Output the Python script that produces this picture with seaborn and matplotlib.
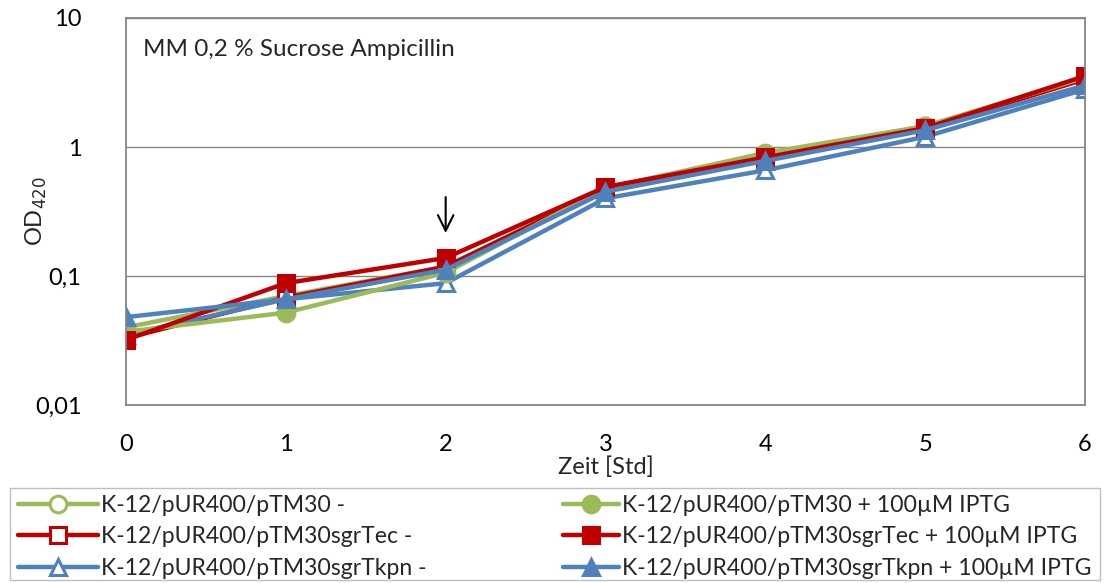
import matplotlib
matplotlib.use("Agg")
import matplotlib.pyplot as plt
import seaborn as sns
import pandas as pd
from matplotlib.ticker import FixedLocator, NullLocator
from matplotlib.patches import Rectangle

sns.set_style("white")
plt.rcParams['font.family'] = ['Lato', 'DejaVu Sans']

hours = [0, 1, 2, 3, 4, 5, 6]
labels = [
    "K-12/pUR400/pTM30 -",
    "K-12/pUR400/pTM30sgrTec -",
    "K-12/pUR400/pTM30sgrTkpn -",
    "K-12/pUR400/pTM30 + 100µM IPTG",
    "K-12/pUR400/pTM30sgrTec + 100µM IPTG",
    "K-12/pUR400/pTM30sgrTkpn + 100µM IPTG",
]
od_pTM30 = [0.040, 0.070, 0.118, 0.48, 0.86, 1.45, 3.40]
od_sgrTec = [0.033, 0.068, 0.118, 0.47, 0.80, 1.40, 3.35]
od_sgrTkpn = [0.035, 0.066, 0.088, 0.40, 0.66, 1.20, 2.80]
od_pTM30_iptg = [0.037, 0.052, 0.106, 0.48, 0.90, 1.45, 3.45]
od_sgrTec_iptg = [0.032, 0.088, 0.138, 0.49, 0.83, 1.40, 3.55]
od_sgrTkpn_iptg = [0.048, 0.066, 0.112, 0.45, 0.78, 1.35, 3.00]

series = [od_pTM30, od_sgrTec, od_sgrTkpn, od_pTM30_iptg, od_sgrTec_iptg, od_sgrTkpn_iptg]
colors = ["#9BBB59", "#C00000", "#4F81BD", "#9BBB59", "#C00000", "#4F81BD"]
markers = ["o", "s", "^", "o", "s", "^"]
filled = [False, False, False, True, True, True]

FS = 17
LFS = 16.6

fig = plt.figure(figsize=(11.04, 5.83), dpi=100)
ax = fig.add_axes([126/1104, 1-405/583, (1085-126)/1104, (405-18)/583])

handles = []
for lab, vals, c, m, f in zip(labels, series, colors, markers, filled):
    df = pd.DataFrame({"Zeit": hours, "OD": vals})
    sns.lineplot(data=df, x="Zeit", y="OD", ax=ax, color=c, linewidth=3.2,
                 marker=m, markersize=12 if m != "s" else 11,
                 markerfacecolor=c if f else "white", markeredgecolor=c,
                 markeredgewidth=2.2, label=lab, legend=False)
    handles.append(ax.lines[-1])

ax.set_yscale("log")
ax.set_ylim(0.01, 10)
ax.set_xlim(0, 6)
ax.yaxis.set_major_locator(FixedLocator([0.01, 0.1, 1, 10]))
ax.yaxis.set_minor_locator(NullLocator())
ax.set_yticklabels(["0,01", "0,1", "1", "10"])
ax.set_xticks(hours)
ax.set_xticklabels([str(h) for h in hours])
ax.tick_params(axis="both", labelsize=FS, colors="black")
ax.tick_params(axis="x", direction="out", length=6, width=1, color="#868686", pad=15)
ax.tick_params(axis="y", direction="out", length=5, width=1, color="#868686", pad=27)
ax.grid(axis="y", color="#868686", linewidth=1)
for s in ax.spines.values():
    s.set_color("#868686")
    s.set_linewidth(1.3)
ax.set_xlabel("Zeit [Std]", fontsize=FS)
ax.xaxis.set_label_coords(0.5, (405-467)/387)
ax.xaxis.label.set_va("center")
ax.set_ylabel("OD$_{420}$", fontsize=FS)
ax.yaxis.set_label_coords((36-126)/959, 0.5)
ax.yaxis.label.set_va("center")

ax.text(0.018, 0.945, "MM 0,2 % Sucrose Ampicillin", transform=ax.transAxes,
        fontsize=FS + 0.5, va="top", ha="left")
ax.annotate("", xy=(2, 0.205), xytext=(2, 0.43),
            arrowprops=dict(arrowstyle="->", color="black", lw=1.5,
                            mutation_scale=28))

# legend frame
fig.patches.append(Rectangle((10/1104, 1-580/583), 1090/1104, 92/583,
                             transform=fig.transFigure, fill=False,
                             edgecolor="#BFBFBF", linewidth=1))

px = LFS * 100 / 72
common = dict(fontsize=LFS, loc="upper left", borderaxespad=0, borderpad=0,
              labelspacing=0.45, frameon=False, handletextpad=0.15)
leg1 = fig.legend(handles=handles[:3], labels=labels[:3],
                  bbox_to_anchor=(18/1104, 1-495/583),
                  handlelength=80/px, **common)
leg2 = fig.legend(handles=handles[3:], labels=labels[3:],
                  bbox_to_anchor=(563/1104, 1-495/583),
                  handlelength=56/px, **common)

fig.savefig("out.png", dpi=100)
